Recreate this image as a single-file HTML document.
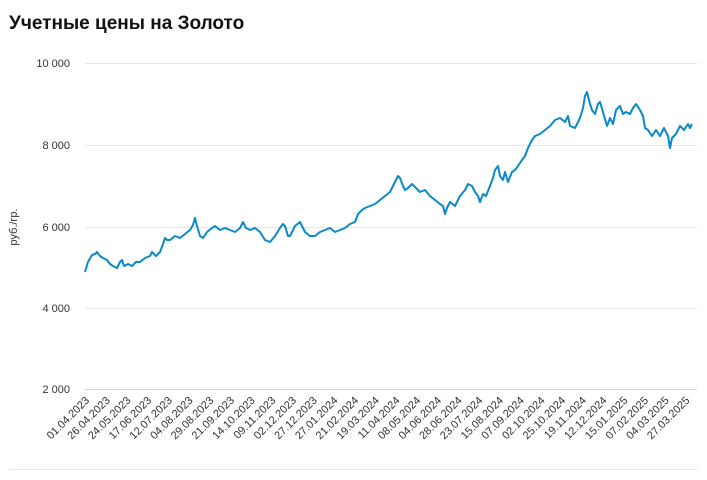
<!DOCTYPE html>
<html><head><meta charset="utf-8"><style>
body{margin:0;background:#fff;width:707px;height:475px;overflow:hidden}
svg{font-family:"Liberation Sans",sans-serif}
</style></head><body>
<svg width="707" height="475" viewBox="0 0 707 475">
<text x="9" y="29" font-size="19" font-weight="bold" fill="#111">Учетные цены на Золото</text>
<g stroke="#e6e6e6" stroke-width="1">
<line x1="85" x2="697" y1="63.5" y2="63.5"/>
<line x1="85" x2="697" y1="145.5" y2="145.5"/>
<line x1="85" x2="697" y1="227.5" y2="227.5"/>
<line x1="85" x2="697" y1="308.5" y2="308.5"/>
<line x1="9" x2="697" y1="469.5" y2="469.5"/>
</g>
<line x1="85" x2="697" y1="389.5" y2="389.5" stroke="#ccd6eb"/>
<g font-size="11" fill="#333" text-anchor="end">
<text x="70" y="67">10 000</text>
<text x="70" y="149">8 000</text>
<text x="70" y="231">6 000</text>
<text x="70" y="312">4 000</text>
<text x="70" y="393">2 000</text>
</g>
<text transform="translate(17,227) rotate(-90)" font-size="11" fill="#333" text-anchor="middle">руб./гр.</text>
<polyline fill="none" stroke="#0a8ac8" stroke-width="2" stroke-linejoin="round" points="85,272 88,262 92,255 95,254 97,252 100,256 103,258 107,260 110,264 113,266 117,268 120,262 122,260 124,266 128,264 132,266 136,262 140,262 145,258 150,256 152,252 156,256 160,252 163,244 165,238 167,240 170,240 175,236 180,238 185,234 190,230 193,225 195,218 197,226 200,236 203,238 207,232 212,228 215,226 220,230 225,228 230,230 235,232 240,228 243,222 246,228 250,230 255,228 260,232 265,240 270,242 275,236 280,228 283,224 285,226 288,236 290,236 295,226 300,222 305,232 310,236 315,236 320,232 325,230 330,228 335,232 340,230 345,228 350,224 355,222 358,214 362,210 365,208 370,206 375,204 380,200 385,196 390,192 393,186 396,180 398,176 400,178 403,186 405,190 408,188 412,184 416,188 420,192 425,190 430,196 435,200 440,204 443,206 445,214 447,208 450,202 455,206 460,196 465,190 468,184 472,186 475,192 478,196 480,202 483,194 486,196 490,186 493,178 495,170 498,166 500,176 503,180 505,172 508,182 512,172 515,170 518,166 522,160 525,156 528,148 532,140 535,136 540,134 545,130 550,126 555,120 560,118 565,122 568,116 570,126 575,128 578,122 580,118 583,108 585,96 587,92 590,104 592,110 595,114 598,104 600,102 603,112 607,126 610,118 613,124 616,110 620,106 623,114 626,112 630,114 633,108 636,104 640,110 643,116 645,128 648,130 652,136 656,130 660,136 664,128 668,136 670,148 672,138 676,134 680,126 684,130 688,124 690,128 692,124"/>
<g font-size="11" fill="#333" text-anchor="end" id="xl"></g>
</svg>
<script>
var d=["01.04.2023","26.04.2023","24.05.2023","17.06.2023","12.07.2023","04.08.2023","29.08.2023","21.09.2023","14.10.2023","09.11.2023","02.12.2023","27.12.2023","27.01.2024","21.02.2024","19.03.2024","11.04.2024","08.05.2024","04.06.2024","28.06.2024","23.07.2024","15.08.2024","07.09.2024","02.10.2024","25.10.2024","19.11.2024","12.12.2024","15.01.2025","07.02.2025","04.03.2025","27.03.2025"];
var g=document.getElementById('xl'),s="";
for(var i=0;i<d.length;i++){var x=90+i*20.7;s+='<text transform="translate('+x+',401) rotate(-45)">'+d[i]+'</text>';}
g.innerHTML=s;
</script>
</body></html>
